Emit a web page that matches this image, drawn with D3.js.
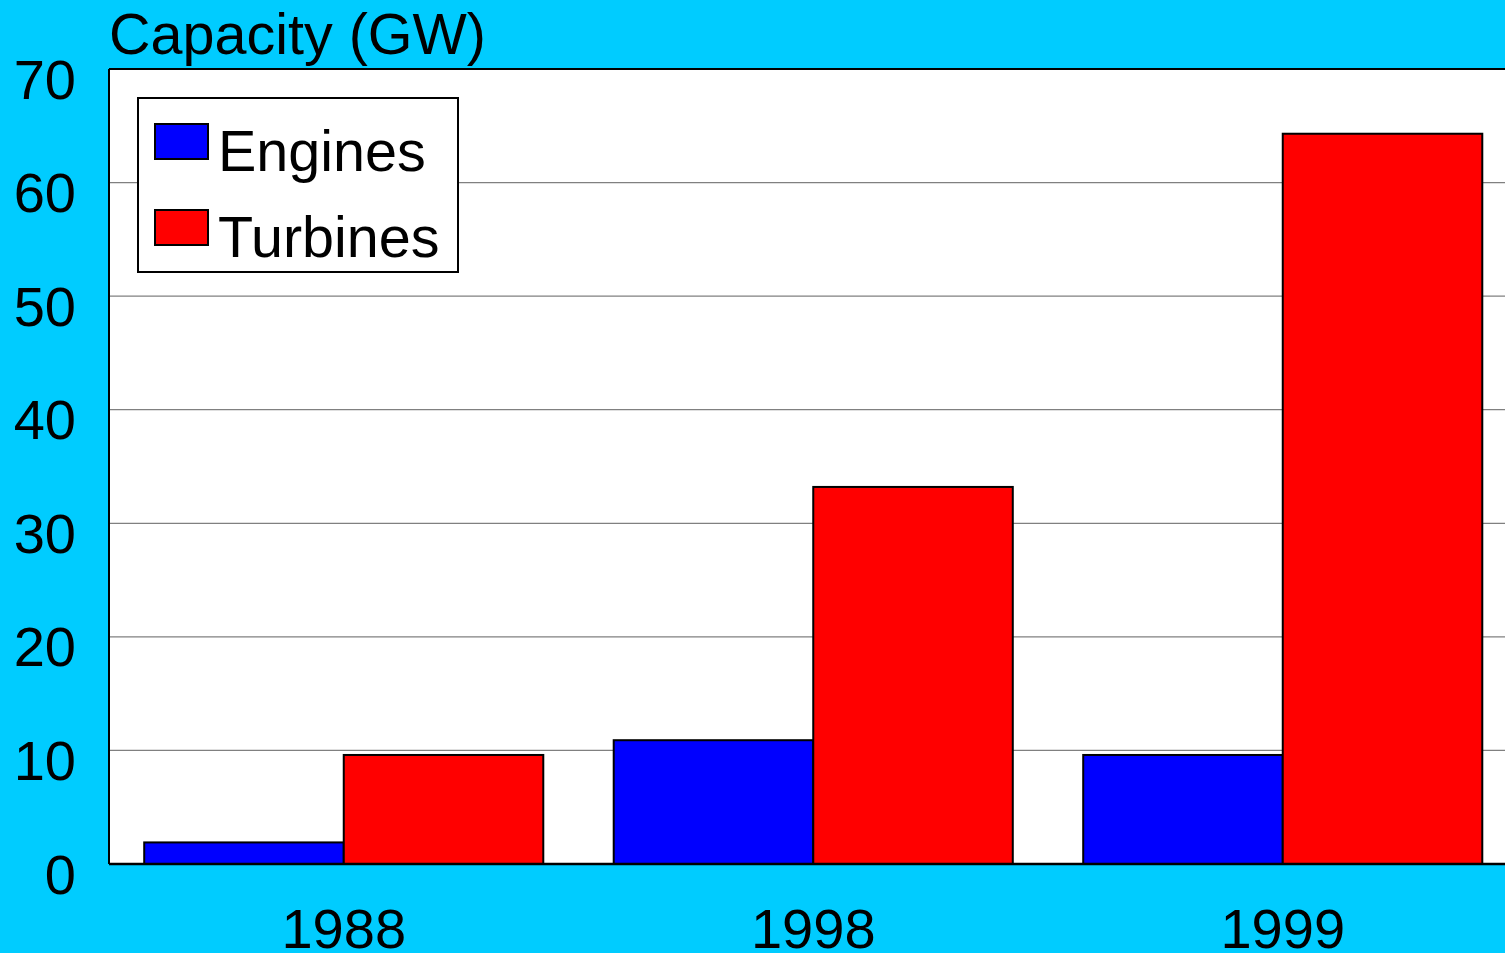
<!DOCTYPE html>
<html lang="en">
<head>
  <meta charset="UTF-8">
  <title>Capacity (GW)</title>
  <script src="https://d3js.org/d3.v7.min.js"></script>
  <style>
    body { margin: 0; background: #00ccff; overflow: hidden; }
    text { font-family: "Liberation Sans", Arial, sans-serif; }
  </style>
</head>
<body>
  <div class="canvas"></div>
  <script>
    const years = ['1988', '1998', '1999'];
    const seriesNames = ['Engines', 'Turbines'];
    const engines = [1.9, 10.9, 9.6];
    const turbines = [9.6, 33.2, 64.3];
    const yTicks = [0, 10, 20, 30, 40, 50, 60, 70];
    const colors = ['#0000ff', '#ff0000'];

    const width = 1505;
    const height = 953;
    let [mt, mb, ml] = [69, 89, 109];
    const plotRight = 1517.5;

    const svg = d3.select('.canvas')
      .append('svg')
      .attr('width', width)
      .attr('height', height)

    svg.append('rect')
      .attr('width', width).attr('height', height)
      .attr('fill', '#00ccff')

    const x = d3.scaleBand()
      .domain(years)
      .range([ml, plotRight])
      .paddingInner(0.15)
      .paddingOuter(0.075)

    const xs = d3.scaleBand()
      .domain(seriesNames)
      .range([0, x.bandwidth()])

    const y = d3.scaleLinear()
      .domain([0, 70])
      .range([height - mb, mt])

    // plot background
    svg.append('rect')
      .attr('x', ml).attr('y', mt)
      .attr('width', width - ml).attr('height', y(0) - mt)
      .attr('fill', 'white')

    // gridlines
    svg.append('g')
      .selectAll('line')
      .data(yTicks.filter(d => d > 0 && d < 70))
      .enter().append('line')
      .attr('x1', ml).attr('x2', width)
      .attr('y1', d => y(d)).attr('y2', d => y(d))
      .attr('stroke', '#808080')
      .attr('stroke-width', 1.2)

    // bars
    const rows = years.map((yr, i) => ({ year: yr, values: [engines[i], turbines[i]] }));
    const groups = svg.append('g')
      .selectAll('g')
      .data(rows)
      .enter().append('g')
      .attr('transform', d => `translate(${x(d.year)},0)`)

    groups.selectAll('rect')
      .data(d => d.values.map((v, j) => ({ name: seriesNames[j], value: v, color: colors[j] })))
      .enter().append('rect')
      .attr('x', d => xs(d.name))
      .attr('y', d => y(d.value))
      .attr('width', xs.bandwidth())
      .attr('height', d => y(0) - y(d.value))
      .attr('fill', d => d.color)
      .attr('stroke', 'black')
      .attr('stroke-width', 2)

    // frame
    const frame = svg.append('g').attr('stroke', 'black').attr('stroke-width', 2)
    frame.append('line').attr('x1', ml).attr('x2', width).attr('y1', mt).attr('y2', mt)
    frame.append('line').attr('x1', ml).attr('x2', ml).attr('y1', mt).attr('y2', y(0))
    frame.append('line').attr('x1', ml).attr('x2', width).attr('y1', y(0)).attr('y2', y(0)).attr('stroke-width', 2.5)

    // axes
    const yAxis = svg.append('g')
      .attr('transform', `translate(${ml},0)`)
      .call(d3.axisLeft(y).tickValues(yTicks).tickSize(0).tickPadding(33))
    yAxis.select('.domain').remove()
    yAxis.selectAll('text')
      .attr('font-size', 56)
      .attr('font-family', '"Liberation Sans", Arial, sans-serif')
      .attr('fill', 'black')
      .attr('dy', '0.52em')

    const xAxis = svg.append('g')
      .attr('transform', `translate(0,${y(0)})`)
      .call(d3.axisBottom(x).tickSize(0).tickPadding(44))
    xAxis.select('.domain').remove()
    xAxis.selectAll('text')
      .attr('font-size', 56)
      .attr('font-family', '"Liberation Sans", Arial, sans-serif')
      .attr('fill', 'black')

    // title
    svg.append('text')
      .attr('x', 109).attr('y', 54)
      .attr('font-size', 57.5)
      .text('Capacity (GW)')

    // legend
    const legend = svg.append('g')
    legend.append('rect')
      .attr('x', 138).attr('y', 98)
      .attr('width', 320).attr('height', 174)
      .attr('fill', 'white')
      .attr('stroke', 'black')
      .attr('stroke-width', 2)

    const items = legend.selectAll('g.item')
      .data(seriesNames)
      .enter().append('g')
      .attr('class', 'item')
      .attr('transform', (d, i) => `translate(0,${i * 86})`)

    items.append('rect')
      .attr('x', 155).attr('y', 124)
      .attr('width', 53).attr('height', 35)
      .attr('fill', (d, i) => colors[i])
      .attr('stroke', 'black')
      .attr('stroke-width', 2)

    items.append('text')
      .attr('x', 218).attr('y', 171)
      .attr('font-size', 57.5)
      .text(d => d)
  </script>
</body>
</html>
